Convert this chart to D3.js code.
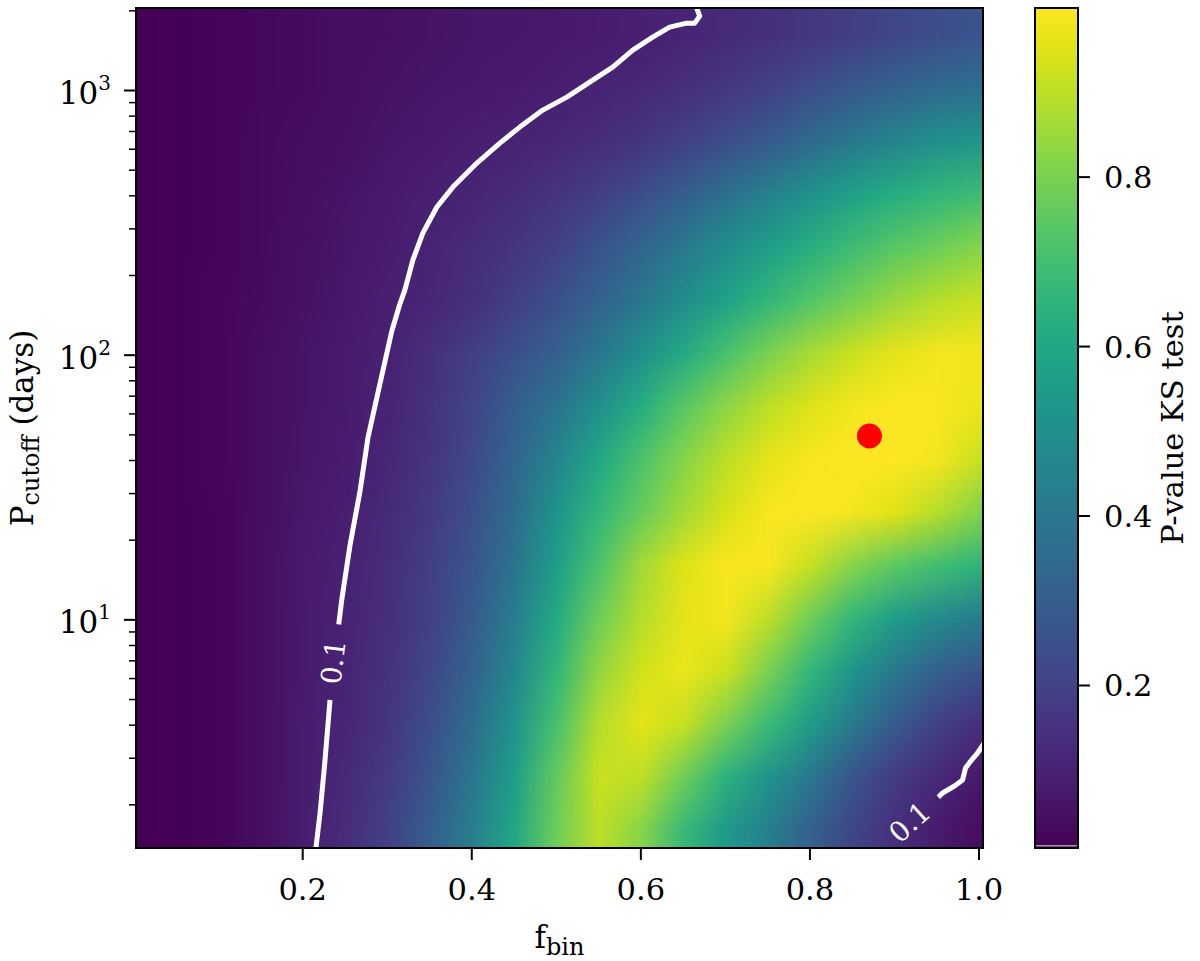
<!DOCTYPE html>
<html><head><meta charset="utf-8">
<script src="https://cdn.jsdelivr.net/npm/d3@7"></script>
<style>
body{margin:0;background:#fff}
svg{display:block}
text{font-family:"DejaVu Serif",serif;fill:#000}
</style>
</head><body><svg id="c" width="1200" height="961"></svg>
<script>
// ---------------- data ----------------
// f_bin columns
const fbin = [0,0.05,0.1,0.15,0.2,0.25,0.3,0.35,0.4,0.45,0.5,0.55,0.6,0.65,0.7,0.75,0.8,0.85,0.9,0.95,1.0];
// log10(P_cutoff / days) row centres, bottom to top
const logPcutoff = [0.21,0.41,0.61,0.81,1.01,1.21,1.41,1.61,1.81,2.01,2.21,2.41,2.61,2.81,3.01,3.21];
// KS-test p-values, one array per row (bottom to top)
const pRow021 = [0.008,0.012,0.02,0.046,0.088,0.13,0.2,0.3,0.43,0.6,0.78,0.9,0.82,0.67,0.54,0.43,0.31,0.21,0.14,0.08,0.04];
const pRow041 = [0.008,0.012,0.02,0.045,0.085,0.12,0.18,0.27,0.4,0.56,0.76,0.92,0.9,0.78,0.64,0.52,0.4,0.27,0.18,0.12,0.07];
const pRow061 = [0.008,0.012,0.02,0.045,0.082,0.11,0.16,0.24,0.36,0.52,0.71,0.89,0.96,0.91,0.8,0.68,0.55,0.41,0.29,0.2,0.14];
const pRow081 = [0.008,0.012,0.02,0.044,0.08,0.108,0.15,0.22,0.32,0.47,0.66,0.84,0.93,0.97,0.92,0.8,0.66,0.52,0.4,0.31,0.26];
const pRow101 = [0.008,0.012,0.021,0.044,0.078,0.104,0.14,0.2,0.29,0.43,0.61,0.78,0.89,0.96,0.98,0.9,0.78,0.66,0.56,0.48,0.42];
const pRow121 = [0.008,0.013,0.022,0.044,0.075,0.097,0.135,0.19,0.27,0.39,0.56,0.72,0.86,0.95,0.99,0.99,0.91,0.82,0.75,0.7,0.65];
const pRow141 = [0.009,0.014,0.023,0.043,0.07,0.09,0.125,0.175,0.25,0.36,0.52,0.66,0.77,0.86,0.94,0.99,1.0,0.98,0.95,0.89,0.81];
const pRow161 = [0.009,0.014,0.024,0.042,0.065,0.085,0.115,0.16,0.23,0.33,0.46,0.6,0.72,0.82,0.9,0.96,0.99,1.0,1.0,0.98,0.92];
const pRow181 = [0.01,0.015,0.025,0.04,0.06,0.08,0.108,0.15,0.21,0.3,0.39,0.5,0.62,0.74,0.83,0.9,0.95,0.98,1.0,0.99,0.97];
const pRow201 = [0.01,0.015,0.025,0.04,0.06,0.08,0.1,0.14,0.19,0.25,0.31,0.4,0.5,0.61,0.71,0.8,0.87,0.92,0.96,0.98,0.98];
const pRow221 = [0.01,0.015,0.024,0.036,0.052,0.07,0.093,0.115,0.145,0.19,0.25,0.32,0.4,0.49,0.58,0.66,0.73,0.79,0.85,0.89,0.92];
const pRow241 = [0.01,0.015,0.023,0.034,0.048,0.065,0.085,0.105,0.13,0.16,0.2,0.26,0.33,0.41,0.49,0.56,0.63,0.69,0.74,0.78,0.82];
const pRow261 = [0.01,0.015,0.023,0.033,0.045,0.058,0.075,0.093,0.11,0.13,0.155,0.19,0.24,0.3,0.37,0.44,0.51,0.57,0.62,0.66,0.69];
const pRow281 = [0.01,0.015,0.022,0.031,0.04,0.05,0.065,0.077,0.09,0.104,0.117,0.135,0.16,0.2,0.24,0.29,0.35,0.41,0.46,0.5,0.53];
const pRow301 = [0.01,0.015,0.022,0.03,0.038,0.046,0.055,0.062,0.07,0.078,0.09,0.105,0.12,0.14,0.17,0.2,0.24,0.28,0.32,0.35,0.37];
const pRow321 = [0.01,0.015,0.022,0.03,0.037,0.044,0.05,0.055,0.062,0.068,0.076,0.085,0.096,0.112,0.125,0.145,0.165,0.19,0.215,0.24,0.27];

// p = 0.1 contour (upper-left branch), f_bin and P_cutoff
const contourAF = [0.2162,0.2210,0.2269,0.2328,0.2434,0.2469,0.2564,0.2682,0.2777,0.2919,0.3060,0.3155,0.3214,0.3309,0.3427,0.3593,0.3782,0.4066,0.4338,0.4574,0.4846,0.5130,0.5437,0.5673,0.5910,0.6146,0.6347,0.6548,0.6643,0.6702,0.6667];
const contourAP = [1.368,1.838,2.915,4.914,9.68,11.93,18.92,30.27,48.42,77.45,122.8,155.3,175.4,227.8,288.0,361.2,429.8,529.6,630.2,724.2,839.8,940.1,1090,1221,1415,1585,1729,1789,1789,1902,2039];
// p = 0.1 contour (lower-right branch)
const contourBF = [1.0059,0.9988,0.9917,0.9846,0.9811,0.9716,0.9574,0.9515];
const contourBP = [3.38,3.126,2.941,2.743,2.471,2.346,2.207,2.113];
// contour labels
const labelF = [0.2363,0.9184];
const labelP = [6.90,1.715];
const labelText = ["0.1","0.1"];
// best fit marker
const bestF = [0.871];
const bestP = [49.3];

// tick values
const xTicks = [0.2,0.4,0.6,0.8,1.0];
const yMajor = [10,100,1000];
const yMajorExp = ["1","2","3"];
const yMinor = [2,3,4,5,6,7,8,9,20,30,40,50,60,70,80,90,200,300,400,500,600,700,800,900,2000];
const cbTicks = [0.2,0.4,0.6,0.8];

// ---------------- layout ----------------
const W=1200,H=961;
const L=136,R=983,T=8,B=848;
const CBL=1035,CBR=1078;

const grid = [pRow021,pRow041,pRow061,pRow081,pRow101,pRow121,pRow141,pRow161,pRow181,pRow201,pRow221,pRow241,pRow261,pRow281,pRow301,pRow321];

const x = d3.scaleLinear().domain([0.0034,1.0053]).range([L,R]);
const y = d3.scaleLog().domain([1.368,2041]).range([B,T]);
const cdom = [0.0076,0.999];
const color = d3.scaleSequential(d3.interpolateViridis).domain(cdom);

const svg = d3.select('#c');
const defs = svg.append('defs');
defs.append('clipPath').attr('id','plotclip').append('rect')
  .attr('x',L).attr('y',T).attr('width',R-L).attr('height',B-T);

// heat map image
const nC=fbin.length, nR=logPcutoff.length;
const cv=document.createElement('canvas'); cv.width=nC; cv.height=nR;
const ctx=cv.getContext('2d');
grid.forEach((row,j)=>row.forEach((v,i)=>{ctx.fillStyle=color(v);ctx.fillRect(i,nR-1-j,1,1);}));
const hx=(fbin[1]-fbin[0])/2, hy=(logPcutoff[1]-logPcutoff[0])/2;
const ix0=x(fbin[0]-hx), ix1=x(fbin[nC-1]+hx);
const iy0=y(Math.pow(10,logPcutoff[nR-1]+hy)), iy1=y(Math.pow(10,logPcutoff[0]-hy));
const plot = svg.append('g').attr('clip-path','url(#plotclip)');
plot.append('image').attr('href',cv.toDataURL())
  .attr('x',ix0).attr('y',iy0).attr('width',ix1-ix0).attr('height',iy1-iy0)
  .attr('preserveAspectRatio','none').style('image-rendering','auto');

// label gap mask
const mask = defs.append('mask').attr('id','gapmask').attr('maskUnits','userSpaceOnUse')
  .attr('x',0).attr('y',0).attr('width',W).attr('height',H);
mask.append('rect').attr('width',W).attr('height',H).attr('fill','#fff');
const labelAngle=[-83,-42];
labelF.forEach((f,i)=>{
  mask.append('rect').attr('x',-38).attr('y',-16).attr('width',76).attr('height',32)
    .attr('transform',`translate(${x(f)},${y(labelP[i])}) rotate(${labelAngle[i]})`).attr('fill','#000');
});

const line = d3.line().x(d=>x(d[0])).y(d=>y(d[1]));
const cg = plot.append('g').attr('mask','url(#gapmask)');
[[contourAF,contourAP],[contourBF,contourBP]].forEach(([F,P])=>{
  cg.append('path').attr('d',line(F.map((f,i)=>[f,P[i]])))
    .attr('fill','none').attr('stroke','#fff').attr('stroke-width',5)
    .attr('stroke-linejoin','round').attr('stroke-linecap','round');
});
labelF.forEach((f,i)=>{
  plot.append('text').attr('transform',`translate(${x(f)},${y(labelP[i])}) rotate(${labelAngle[i]})`)
    .attr('text-anchor','middle').attr('dy','0.36em').style('font-size','28px').style('fill','#fff')
    .text(labelText[i]);
});

// best point
plot.selectAll('circle.best').data(bestF).enter().append('circle')
  .attr('cx',(d)=>x(d)).attr('cy',(d,i)=>y(bestP[i])).attr('r',12.5).attr('fill','#ff0000');

// frame
svg.append('rect').attr('x',L).attr('y',T).attr('width',R-L).attr('height',B-T)
  .attr('fill','none').attr('stroke','#000').attr('stroke-width',2);

// x axis
const xa = svg.append('g').attr('transform',`translate(0,${B})`)
  .call(d3.axisBottom(x).tickValues(xTicks).tickSize(12).tickPadding(0).tickFormat(d3.format('.1f')));
xa.select('.domain').remove();
xa.selectAll('line').attr('stroke','#000').attr('stroke-width',2);
xa.selectAll('text').attr('y',52).attr('dy',0).style('font-size','30.5px');

// y axis
const ya = svg.append('g').attr('transform',`translate(${L},0)`)
  .call(d3.axisLeft(y).tickValues(yMajor).tickSize(12).tickFormat(''));
ya.select('.domain').remove();
ya.selectAll('line').attr('stroke','#000').attr('stroke-width',2);
const yb = svg.append('g').attr('transform',`translate(${L},0)`)
  .call(d3.axisLeft(y).tickValues(yMinor).tickSize(7).tickFormat(''));
yb.select('.domain').remove();
yb.selectAll('line').attr('stroke','#000').attr('stroke-width',1.5);
yMajor.forEach((v,i)=>{
  const t = svg.append('text').attr('x',111).attr('y',y(v)+14).attr('text-anchor','end').style('font-size','31px');
  t.append('tspan').text('10');
  t.append('tspan').attr('dy',-14).style('font-size','20px').text(yMajorExp[i]);
});

// axis titles
const xl = svg.append('text').attr('x',(L+R)/2).attr('y',948).attr('text-anchor','middle').style('font-size','31px');
xl.append('tspan').text('f');
xl.append('tspan').attr('dy',7).style('font-size','24px').text('bin');

const yl = svg.append('text').attr('transform',`translate(33,${(T+B)/2}) rotate(-90)`).attr('text-anchor','middle').style('font-size','31px');
yl.append('tspan').text('P');
yl.append('tspan').attr('dy',6).style('font-size','24px').text('cutoff');
yl.append('tspan').attr('dy',-6).text('\u00a0(days)');

// colorbar
const grad = defs.append('linearGradient').attr('id','vir').attr('x1',0).attr('y1',1).attr('x2',0).attr('y2',0);
d3.range(0,1.0001,0.02).forEach(t=>grad.append('stop').attr('offset',t).attr('stop-color',d3.interpolateViridis(t)));
svg.append('rect').attr('x',CBL).attr('y',T).attr('width',CBR-CBL).attr('height',B-T).attr('fill','url(#vir)');
svg.append('line').attr('x1',CBL+1).attr('x2',CBR-1).attr('y1',B-2.3).attr('y2',B-2.3).attr('stroke','#b48cb8').attr('stroke-width',1.5);
svg.append('rect').attr('x',CBL).attr('y',T).attr('width',CBR-CBL).attr('height',B-T)
  .attr('fill','none').attr('stroke','#000').attr('stroke-width',2);
const cy = d3.scaleLinear().domain(cdom).range([B,T]);
const ca = svg.append('g').attr('transform',`translate(${CBR},0)`)
  .call(d3.axisRight(cy).tickValues(cbTicks).tickSize(12).tickPadding(14).tickFormat(d3.format('.1f')));
ca.select('.domain').remove();
ca.selectAll('line').attr('stroke','#000').attr('stroke-width',2);
ca.selectAll('text').attr('dy','0.36em').style('font-size','30.5px');

svg.append('text').attr('transform',`translate(1183,${(T+B)/2}) rotate(-90)`).attr('text-anchor','middle')
  .style('font-size','30.5px').text('P-value KS test');
</script>
</body></html>
